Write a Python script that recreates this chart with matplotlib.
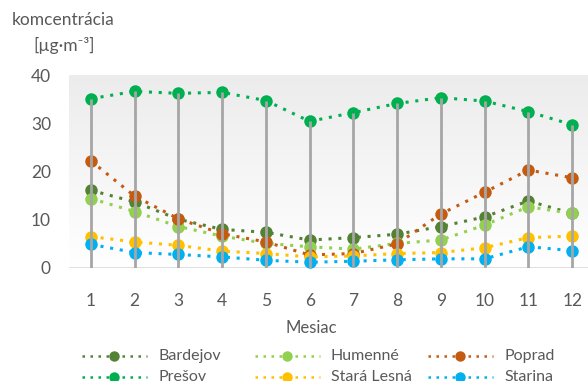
import numpy as np
import matplotlib
matplotlib.use("Agg")
import matplotlib.pyplot as plt
from matplotlib.lines import Line2D
from matplotlib.colors import LinearSegmentedColormap

plt.rcParams['font.family'] = ['Lato', 'DejaVu Sans']

months = list(range(1, 13))
month_labels = [str(m) for m in months]

bardejov = [16.1, 13.7, 10.1, 8.0, 7.4, 5.8, 6.3, 7.0, 8.6, 10.6, 13.9, 11.3]
humenne = [14.4, 11.7, 8.6, 6.6, 5.1, 4.4, 3.9, 5.1, 5.8, 8.9, 12.7, 11.3]
poprad = [22.2, 14.9, 10.2, 7.1, 5.4, 2.7, 3.0, 5.0, 11.2, 15.7, 20.3, 18.7]
presov = [35.1, 36.6, 36.2, 36.4, 34.7, 30.4, 32.2, 34.1, 35.3, 34.6, 32.4, 29.7]
stara_lesna = [6.5, 5.4, 4.7, 3.5, 3.0, 2.3, 2.5, 3.0, 3.2, 4.2, 6.3, 6.6]
starina = [4.9, 3.2, 2.8, 2.3, 1.6, 1.2, 1.4, 1.7, 1.9, 1.9, 4.4, 3.6]

series = [
    ("Bardejov", bardejov, "#548235"),
    ("Humenné", humenne, "#92d050"),
    ("Poprad", poprad, "#c55a11"),
    ("Prešov", presov, "#00b050"),
    ("Stará Lesná", stara_lesna, "#ffc000"),
    ("Starina", starina, "#00b0f0"),
]

txt = "#595959"
W, H = 588, 381
fig = plt.figure(figsize=(W / 100, H / 100), dpi=100)
ax = fig.add_axes([69 / W, 1 - 268 / H, 525 / W, 193 / H])

# gradient background
grad = np.linspace(0, 1, 256).reshape(-1, 1)
cmap = LinearSegmentedColormap.from_list("g", ["#ffffff", "#ececec"])
ax.imshow(grad, extent=[0.5, 12.5, 40, 0], cmap=cmap, aspect='auto', zorder=0)
ax.set_xlim(0.5, 12.5)
ax.set_ylim(0, 40)

for name, vals, col in series:
    ax.plot(months, vals, linestyle=(0, (1, 2.2)), linewidth=2.2, color=col,
            marker='o', markersize=9, markeredgewidth=0, zorder=3)

tops = np.max(np.array([s[1] for s in series]), axis=0)
ax.vlines(months, 0, tops, color="#a6a6a6", linewidth=2, zorder=4)

ax.axhline(0, color="#d9d9d9", linewidth=1.2, zorder=2)

for s in ax.spines.values():
    s.set_visible(False)
ax.set_xticks(months)
ax.set_xticklabels(month_labels)
ax.set_yticks([0, 10, 20, 30, 40])
ax.tick_params(axis='both', length=0, colors=txt, labelsize=12.5)
ax.tick_params(axis='y', pad=13)
ax.tick_params(axis='x', pad=18)

fig.text(12 / W, 1 - 20 / H, "komcentrácia", color=txt, fontsize=12.5, va='center', ha='left')
fig.text(33 / W, 1 - 45 / H, "[µg·m⁻³]", color=txt, fontsize=12.5, va='center', ha='left')
fig.text(311 / W, 1 - 328 / H, "Mesiac", color=txt, fontsize=12, va='center', ha='center')

# manual legend (Excel-like fixed columns)
col_x = [82, 255, 428]
row_y = [356, 377]
for i, (name, _, col) in enumerate(series):
    r = i // 3
    c = i % 3
    x0 = col_x[c]
    y = 1 - row_y[r] / H
    line = Line2D([x0 / W, (x0 + 65) / W], [y, y], transform=fig.transFigure,
                  linestyle=(0, (1, 2.2)), linewidth=1.8, color=col)
    fig.add_artist(line)
    mk = Line2D([(x0 + 32) / W], [y], transform=fig.transFigure,
                marker='o', markersize=7.5, markeredgewidth=0, color=col, linestyle='none')
    fig.add_artist(mk)
    fig.text((x0 + 76) / W, y, name, color=txt, fontsize=11.5, va='center', ha='left')

fig.savefig("out.png", dpi=100)
